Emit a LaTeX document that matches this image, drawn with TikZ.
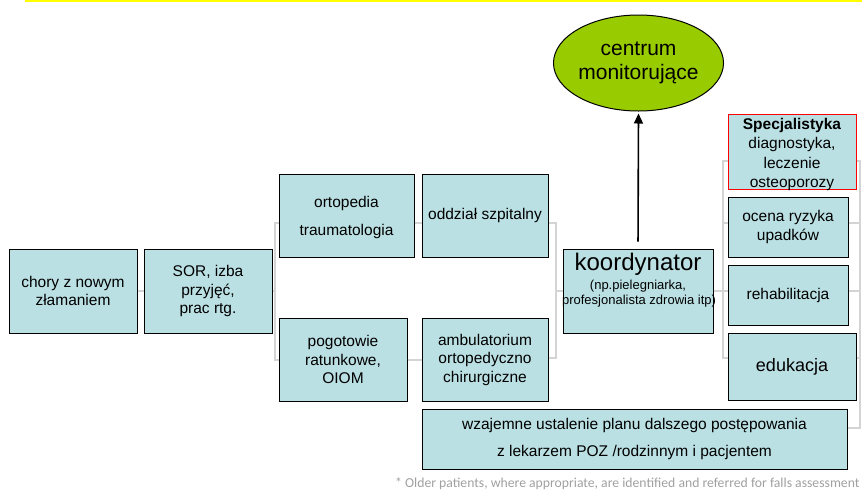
\documentclass[tikz,border=0pt]{standalone}
\usepackage{fontspec}
\setmainfont{Liberation Sans}
\newfontfamily\footfont{Carlito}
\usetikzlibrary{shapes.geometric,arrows.meta}
\definecolor{boxfill}{HTML}{BBE0E3}
\definecolor{ellfill}{HTML}{99CC00}
\definecolor{connout}{HTML}{8C8C8C}
\definecolor{connin}{HTML}{D4D4D4}
\definecolor{footgray}{HTML}{A0A0A0}
\definecolor{topline}{HTML}{FFFF00}
\tikzset{
  box/.style={draw=black, line width=1pt, fill=boxfill, inner sep=0pt, align=center,
    font=\fontsize{15.5}{18.5}\selectfont},
  conn/.style={draw=connout, line width=0.7pt, double=connin, double distance=1.1pt},
  arrowline/.style={draw=black, line width=1.6pt, -{Triangle[length=10pt,width=9pt]}},
}
\begin{document}
\begin{tikzpicture}[x=1pt,y=-1pt]
\useasboundingbox (0,0) rectangle (864,491);
\draw[topline, line width=2pt] (25,1) -- (862,1);

% boxes
\node[box, minimum width=128, minimum height=84] (chory) at (73,291) {chory z nowym\\złamaniem};
\node[box, minimum width=128, minimum height=84] (sor) at (208,291) {SOR, izba\\przyjęć,\\prac rtg.};
\node[box, minimum width=135, minimum height=83] (ort) at (346.5,215.5) {};
\node[anchor=center, inner sep=0pt, align=center, font=\fontsize{15.5}{28}\selectfont] (orttext) at (346.5,217.5) {ortopedia\\traumatologia};
\node[box, minimum width=126, minimum height=83] (odd) at (485,215.5) {oddział szpitalny};
\node[box, minimum width=128, minimum height=83] (pog) at (343,359.5) {pogotowie\\ratunkowe,\\OIOM};
\node[box, minimum width=126, minimum height=83] (amb) at (485,359.5) {ambulatorium\\ortopedyczno\\chirurgiczne};
\node[box, minimum width=150, minimum height=84] (koord) at (638,291) {};
\node[anchor=base, inner sep=0pt, font=\fontsize{24}{28}\selectfont] (kt1) at (638,270) {koordynator};
\node[anchor=base, inner sep=0pt, font=\fontsize{13}{15}\selectfont] (kt2) at (638,289) {(np.pielegniarka,};
\node[anchor=base, inner sep=0pt, font=\fontsize{13}{15}\selectfont] (kt3) at (639,304) {profesjonalista zdrowia itp)};
\node[ellipse, draw=black, line width=1pt, fill=ellfill, minimum width=151, minimum height=96, inner sep=0pt,
  align=center, font=\fontsize{21}{23.5}\selectfont] (ell) at (638.5,63) {centrum\\monitorujące};
\node[box, draw=red, minimum width=128, minimum height=75] (spec) at (792,151.5) {};
\node[anchor=center, inner sep=0pt, align=center, font=\fontsize{15.5}{19.4}\selectfont] (spectext) at (792,154.5)
  {\textbf{Specjalistyka}\\diagnostyka,\\leczenie\\osteoporozy};
\node[box, minimum width=120, minimum height=60] (ocena) at (788,227) {ocena ryzyka\\upadków};
\node[box, minimum width=120, minimum height=60] (rehab) at (788,295) {rehabilitacja};
\node[box, minimum width=128, minimum height=67, font=\fontsize{18}{21}\selectfont] (edu) at (792,366.5) {edukacja};
\node[box, minimum width=425, minimum height=60, font=\fontsize{15.5}{27}\selectfont] (wz) at (634.5,439)
  {wzajemne ustalenie planu dalszego postępowania\\z lekarzem POZ /rodzinnym i pacjentem};

% junction coordinates
\coordinate (jL) at (275,291);
\coordinate (jM) at (556,291);
\coordinate (jR) at (723,291);
\coordinate (jE) at (860,291);

% connectors
\draw[conn] (chory.east) -- (sor.west);
\draw[conn] (sor.east) -- (jL);
\draw[conn] (ort.west |- 0,223) -- (275,223) -- (275,360) -- (pog.west |- 0,360);
\draw[conn] (ort.east |- 0,223) -- (odd.west |- 0,223);
\draw[conn] (pog.east |- 0,360) -- (amb.west |- 0,360);
\draw[conn] (odd.east |- 0,223) -- (556,223) -- (556,358) -- (amb.east |- 0,358);
\draw[conn] (jM) -- (koord.west);
\draw[conn] (koord.east) -- (jR);
\draw[conn] (spec.west |- 0,161) -- (723,161) -- (723,358) -- (edu.west |- 0,358);
\draw[conn] (723,223) -- (ocena.west |- 0,223);
\draw[conn] (jR) -- (rehab.west |- 0,291);
\draw[conn] (spec.east |- 0,161) -- (860,161) -- (860,428) -- (wz.east |- 0,428);
\draw[conn] (ocena.east |- 0,223) -- (860,223);
\draw[conn] (rehab.east |- 0,291) -- (jE);
\draw[conn] (edu.east |- 0,358) -- (860,358);

% arrow
\draw[arrowline, shorten <=7pt, shorten >=2pt] (koord.north) -- (ell.south);

% footnote
\node[anchor=base west, inner sep=0pt, text=footgray, font=\footfont\fontsize{13.7}{16}\selectfont] (note) at (395,487.5)
  {* Older patients, where appropriate, are identified and referred for falls assessment};
\end{tikzpicture}
\end{document}
